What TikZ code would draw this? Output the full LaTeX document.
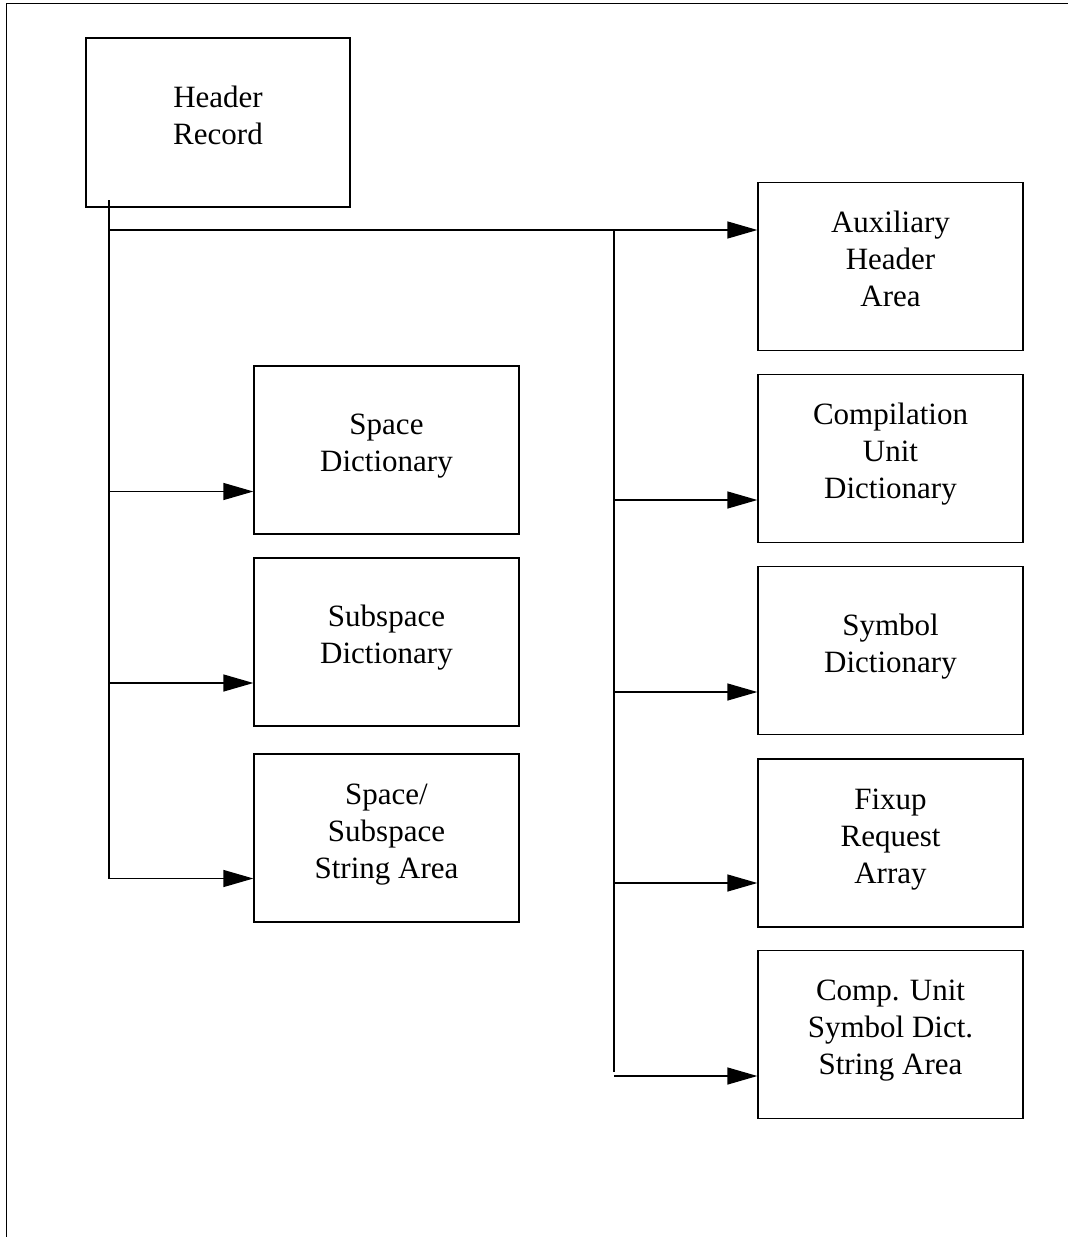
\documentclass[tikz,border=0pt]{standalone}
\usepackage{fontspec}
\setmainfont{Liberation Serif}
\usetikzlibrary{arrows.meta}
\newcommand\ftop{\rule{0pt}{26pt}}
\newcommand\fbot{\rule[-20pt]{0pt}{20pt}}
\begin{document}
\begin{tikzpicture}[x=1pt,y=-1pt,
  line width=1.3pt,
  recbox/.style={draw, line width=1.3pt, inner sep=0pt, minimum width=265pt,
    minimum height=168pt, align=center, font=\fontsize{31}{37}\selectfont},
  arr/.style={-{Triangle[length=30pt,width=17pt]}},
  frame/.style={line width=1.4pt}]
\useasboundingbox (0,0) rectangle (1068,1237);
\draw[frame] (6.7,1240) -- (6.7,3.7) -- (1070,3.7);

\node[recbox, minimum width=264pt, minimum height=169pt] (hdr) at (218,122.5) {\ftop Header\\Record\fbot};
\node[recbox] (space) at (386.5,450) {\ftop Space\\Dictionary\fbot};
\node[recbox] (subsp) at (386.5,642) {\ftop Subspace\\Dictionary\fbot};
\node[recbox] (sstr) at (386.5,838) {\ftop Space/\\Subspace\\String Area\fbot};
\node[recbox] (aux) at (890.5,266.5) {\ftop Auxiliary\\Header\\Area\fbot};
\node[recbox] (cu) at (890.5,458.5) {\ftop Compilation\\Unit\\Dictionary\fbot};
\node[recbox] (sym) at (890.5,650.5) {\ftop Symbol\\Dictionary\fbot};
\node[recbox] (fix) at (890.5,843) {\ftop Fixup\\Request\\Array\fbot};
\node[recbox] (cus) at (890.5,1034.5) {\ftop Comp. Unit\\Symbol Dict.\\String Area\fbot};

% left trunk
\coordinate (ltop) at (109,200);
\coordinate (a1) at ([yshift=-41.5pt]space.west);
\coordinate (a2) at ([yshift=-41pt]subsp.west);
\coordinate (a3) at ([yshift=-40.5pt]sstr.west);
\draw (ltop) -- (a3 -| ltop);
\draw[arr] (a1 -| ltop) -- (a1);
\draw[arr] (a2 -| ltop) -- (a2);
\draw[arr] (a3 -| ltop) -- (a3);

% top branch
\coordinate (hstart) at (110,230);
\draw[arr] (hstart) -- (hstart -| aux.west);

% right trunk
\coordinate (rtop) at (614,230);
\coordinate (b1) at ([yshift=-41.5pt]cu.west);
\coordinate (b2) at ([yshift=-41.5pt]sym.west);
\coordinate (b3) at ([yshift=-40pt]fix.west);
\coordinate (b4) at ([yshift=-41.5pt]cus.west);
\draw (rtop) -- ([yshift=4pt]b4 -| rtop);
\draw[arr] (b1 -| rtop) -- (b1);
\draw[arr] (b2 -| rtop) -- (b2);
\draw[arr] (b3 -| rtop) -- (b3);
\draw[arr] (b4 -| rtop) -- (b4);
\end{tikzpicture}
\end{document}
